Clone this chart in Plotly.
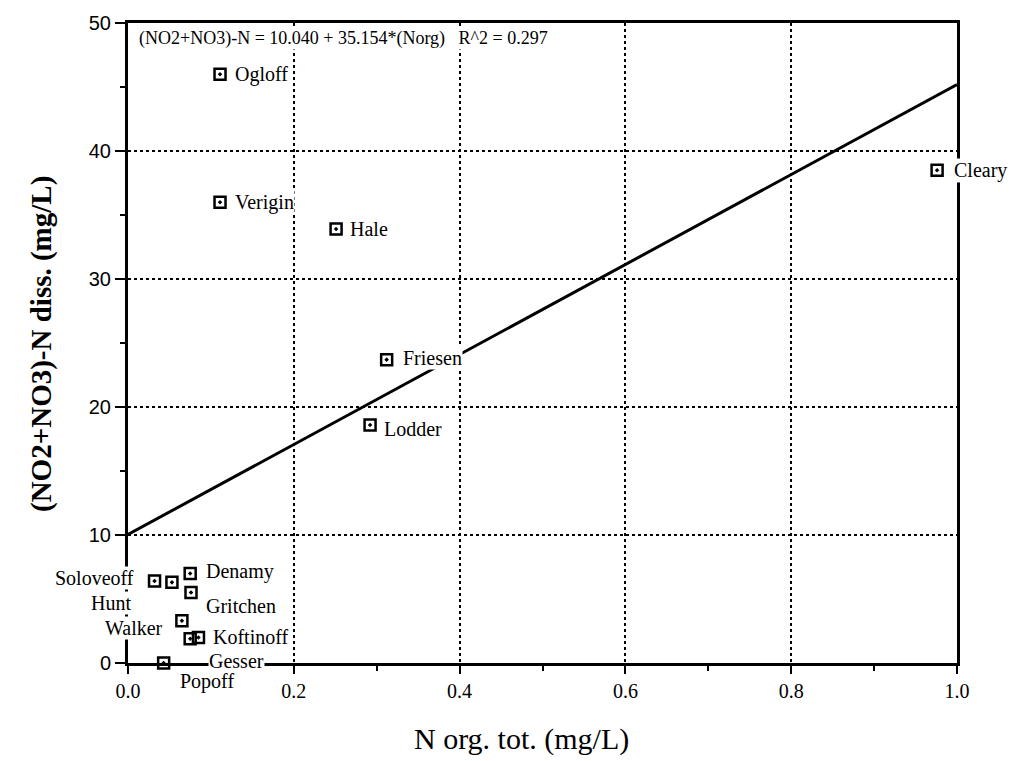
import plotly.graph_objects as go

# ---- data ----
sites = ["Ogloff", "Verigin", "Hale", "Friesen", "Lodder", "Cleary",
         "Soloveoff", "Hunt", "Denamy", "Gritchen", "Walker",
         "Koftinoff", "Gesser", "Popoff"]
n_org = [0.111, 0.111, 0.251, 0.312, 0.292, 0.976,
         0.032, 0.053, 0.075, 0.076, 0.065,
         0.085, 0.075, 0.043]
no2no3 = [46.0, 36.0, 33.9, 23.7, 18.6, 38.5,
          6.4, 6.3, 7.0, 5.5, 3.3,
          2.0, 1.9, 0.0]
intercept = 10.040
slope = 35.154
r2 = 0.297
fit_x = [0.0, 1.0]

# label placement (anchor, xshift, yshift) in pixels
label_pos = {
    "Ogloff": ("left", 14, 0), "Verigin": ("left", 14, 0), "Hale": ("left", 13, 0),
    "Friesen": ("left", 15, 2), "Lodder": ("left", 13, -4), "Cleary": ("left", 16, 0),
    "Soloveoff": ("right", -20, 3), "Hunt": ("right", -40, -21),
    "Denamy": ("left", 15, 2), "Gritchen": ("left", 14, -13),
    "Walker": ("right", -18, -7), "Koftinoff": ("left", 14, 0),
    "Gesser": ("left", 18, -22), "Popoff": ("left", 15, -18),
}

SERIF = "Liberation Serif"

fig = go.Figure()
fig.add_trace(go.Scatter(
    x=fit_x, y=[intercept + slope * v for v in fit_x], mode="lines",
    line=dict(color="black", width=3), hoverinfo="skip", showlegend=False))
fig.add_trace(go.Scatter(
    x=n_org, y=no2no3, mode="markers", cliponaxis=False,
    marker=dict(symbol="square-open-dot", size=11, color="black",
                line=dict(color="black", width=2.5)),
    showlegend=False))

annotations = []
for s, xv, yv in zip(sites, n_org, no2no3):
    anc, dx, dy = label_pos[s]
    annotations.append(dict(
        x=xv, y=yv, xref="x", yref="y", text=s, showarrow=False,
        xanchor=anc, yanchor="middle", xshift=dx, yshift=dy,
        bgcolor="white", borderpad=0,
        font=dict(family=SERIF, size=20, color="black")))

annotations.append(dict(
    x=0.012, y=50, xref="x", yref="y", xanchor="left", yanchor="top", yshift=-4,
    text=f"(NO2+NO3)-N = {intercept:.3f} + {slope:.3f}*(Norg)   R^2 = {r2:.3f}",
    showarrow=False, bgcolor="white", borderpad=0,
    font=dict(family=SERIF, size=18, color="black")))

pw, ph = 1023 - 128 - 66, 761 - 15 - 98
annotations.append(dict(
    x=(521 - 128) / pw, y=(663 - 740) / ph, xref="paper", yref="paper",
    xanchor="center", yanchor="middle", text="N org. tot. (mg/L)",
    showarrow=False, font=dict(family=SERIF, size=30, color="black")))
annotations.append(dict(
    x=(42 - 128) / pw, y=(663 - 340) / ph, xref="paper", yref="paper",
    text="<b>(NO2+NO3)-N diss. (mg/L)</b>", textangle=-90, showarrow=False,
    xanchor="center", yanchor="middle",
    font=dict(family=SERIF, size=29, color="black")))

fig.update_layout(
    width=1023, height=761,
    margin=dict(l=128, r=66, t=15, b=98),
    plot_bgcolor="white", paper_bgcolor="white",
    annotations=annotations,
)

fig.update_xaxes(
    range=[0, 1], tickvals=[0, 0.2, 0.4, 0.6, 0.8, 1.0],
    ticktext=["0.0", "0.2", "0.4", "0.6", "0.8", "1.0"],
    showline=True, linecolor="black", linewidth=3, mirror=True,
    ticks="outside", ticklen=8, tickwidth=2, tickcolor="black",
    showgrid=True, gridcolor="black", griddash="dot", gridwidth=1.5,
    zeroline=False,
    minor=dict(dtick=0.1, ticks="outside", ticklen=5, tickwidth=2, tickcolor="black", showgrid=False),
    tickfont=dict(family=SERIF, size=20, color="black"),
)
fig.update_yaxes(
    range=[0, 50], tickvals=[0, 10, 20, 30, 40, 50],
    showline=True, linecolor="black", linewidth=3, mirror=True,
    ticks="outside", ticklen=10, tickwidth=2, tickcolor="black",
    showgrid=True, gridcolor="black", griddash="dot", gridwidth=1.5,
    zeroline=False,
    minor=dict(dtick=5, ticks="outside", ticklen=5, tickwidth=2, tickcolor="black", showgrid=False),
    tickfont=dict(family="Liberation Sans", size=20, color="black"),
)

fig.write_html("out.html")
